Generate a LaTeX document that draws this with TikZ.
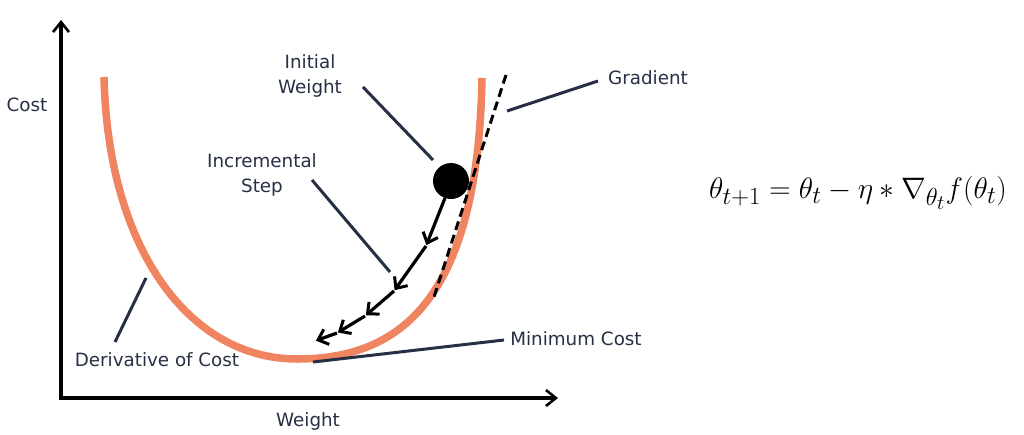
\documentclass[tikz,border=0pt]{standalone}
\usepackage{fontspec}
\setmainfont{DejaVu Sans}
\usepackage{graphicx}
\usepackage{tikz}
\usetikzlibrary{arrows.meta}
\definecolor{inknavy}{RGB}{38,47,68}
\definecolor{salmon}{RGB}{240,132,96}

\tikzset{
  axis/.style={line width=3.2pt,-{Straight Barb[length=10pt,width=16pt,line width=2.6pt]}},
  leader/.style={inknavy,line width=3pt},
  label/.style={inknavy,font=\fontsize{18.3}{25}\selectfont,align=center,inner sep=0pt},
  steparrow/.style={line width=3.2pt,-{Straight Barb[length=9pt,width=16pt,line width=3pt]},shorten >=1pt},
}

\begin{document}
\begin{tikzpicture}[x=1pt,y=-1pt]
  \useasboundingbox (0,0) rectangle (1024,434);
  % axes
  \coordinate (origin) at (61,398);
  \coordinate (ytop) at (61,20);
  \coordinate (xend) at (558,398);
  \draw[axis] (origin) -- (ytop);
  \draw[axis] ([xshift=-1.6pt]origin) -- (xend);
  \node[label] (cost) at (27,105) {Cost};
  \node[label] (weight) at (308,421) {Weight};
  % cost curve
  \coordinate (cleft) at (104,77);
  \coordinate (cmin) at (297,359);
  \coordinate (cright) at (482,78);
  \draw[salmon,line width=7.5pt] (cleft) .. controls (108,250) and (190,359) .. (cmin)
    .. controls (400,359) and (478,300) .. (cright);
  % tangent at the initial weight
  \coordinate (gtop) at (506,75);
  \coordinate (gbot) at (433,300);
  \draw[line width=3pt,dash pattern=on 9pt off 5pt] (gtop) -- (gbot);
  % initial weight
  \node[circle,fill=black,minimum size=36pt,inner sep=0pt] (ball) at (451,181) {};
  % incremental steps
  \foreach \i/\p in {0/{445,198},1/{426,246},2/{394,291},3/{365,316},4/{337,333},5/{315,341}}
    \coordinate (s\i) at (\p);
  \foreach \i [count=\j] in {0,...,4}
    \draw[steparrow] (s\i) -- (s\j);
  % labels and leaders
  \node[label] (initial) at (310,76) {Initial\\Weight};
  \coordinate (li1) at (363,87);
  \coordinate (li2) at (433,160);
  \draw[leader] (li1) -- (li2);
  \node[label] (incr) at (262,175) {Incremental\\Step};
  \coordinate (ls1) at (312,180);
  \coordinate (ls2) at (390,272);
  \draw[leader] (ls1) -- (ls2);
  \node[label] (gradient) at (648,78) {Gradient};
  \coordinate (lg1) at (507,111);
  \coordinate (lg2) at (598,81);
  \draw[leader] (lg1) -- (lg2);
  \node[label] (mincost) at (576,339) {Minimum Cost};
  \coordinate (lm1) at (313,362);
  \coordinate (lm2) at (504,340);
  \draw[leader] (lm1) -- (lm2);
  \node[label] (deriv) at (157,360) {Derivative of Cost};
  \coordinate (ld1) at (115,342);
  \coordinate (ld2) at (146,278);
  \draw[leader] (ld1) -- (ld2);
  % update rule
  \node[font=\fontsize{24.88}{30}\selectfont,inner sep=0pt] (rule) at (858,193)
    {\scalebox{1.19}{$\theta_{t+1} = \theta_t - \eta * \nabla_{\theta_t} f(\theta_t)$}};
\end{tikzpicture}
\end{document}
